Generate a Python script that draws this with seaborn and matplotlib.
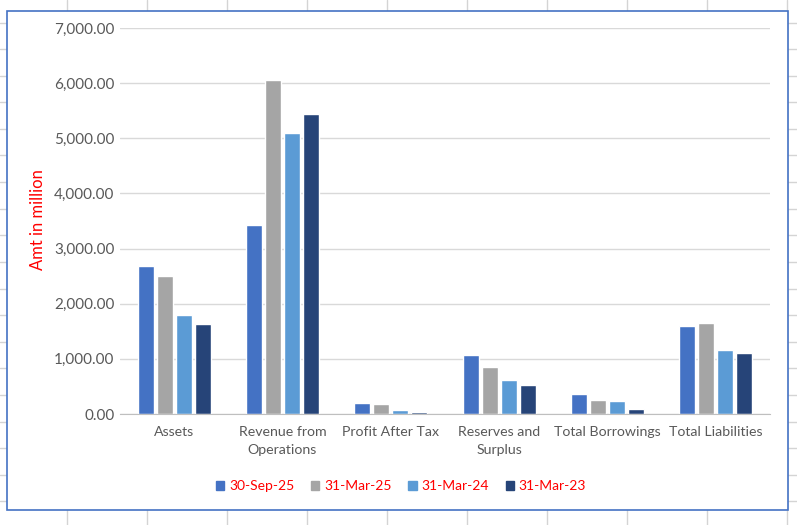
import numpy as np
import pandas as pd
import matplotlib.pyplot as plt
from matplotlib.lines import Line2D
from matplotlib.patches import Rectangle
import seaborn as sns

categories = ['Assets', 'Revenue from\nOperations', 'Profit After Tax',
              'Reserves and\nSurplus', 'Total Borrowings', 'Total Liabilities']
periods = ['30-Sep-25', '31-Mar-25', '31-Mar-24', '31-Mar-23']
sep25 = [2685, 3428, 200, 1070, 363, 1596]
mar25 = [2503, 6059, 181, 853, 254, 1651]
mar24 = [1796, 5097, 75, 617, 236, 1161]
mar23 = [1633, 5442, 40, 526, 91, 1107]
colors = ['#4472C4', '#A5A5A5', '#5B9BD5', '#264478']

df = pd.DataFrame({'category': categories * 4,
                   'period': np.repeat(periods, len(categories)),
                   'value': sep25 + mar25 + mar24 + mar23})

sns.set_style('white')
plt.rcParams['font.family'] = ['Lato', 'DejaVu Sans']
text_grey = '#595959'

W, H = 797, 525
fig = plt.figure(figsize=(W / 100, H / 100), dpi=100)

# spreadsheet grid behind the chart
for x in np.arange(67, W, 80):
    fig.add_artist(Line2D([x / W, x / W], [0, 1], color='#D4D4D4', lw=1, zorder=0))
for y in np.arange(22.5, H, 26.6):
    fig.add_artist(Line2D([0, 1], [1 - y / H, 1 - y / H], color='#D4D4D4', lw=1, zorder=0))

# chart area with blue border
fig.add_artist(Rectangle((7 / W, 1 - 510 / H), 781 / W, 499 / H,
                         facecolor='white', edgecolor='#4472C4', lw=1.2,
                         transform=fig.transFigure, zorder=1))

ax = fig.add_axes([120 / W, 1 - 414 / H, 650 / W, 386 / H])
ax.set_zorder(2)
ax.patch.set_alpha(0)

sns.barplot(data=df, x='category', y='value', hue='period', palette=colors,
            saturation=1, width=0.7, gap=0.15, ax=ax, legend=False)

ax.set_ylim(0, 7000)
ax.set_yticks(np.arange(0, 7001, 1000))
ax.set_yticklabels([f'{v:,.2f}' for v in np.arange(0, 7001, 1000)])
ax.grid(axis='y', color='#D9D9D9', lw=1)
ax.set_axisbelow(True)
for s in ['left', 'right', 'top']:
    ax.spines[s].set_visible(False)
ax.spines['bottom'].set_color('#BFBFBF')
ax.tick_params(axis='both', length=0, colors=text_grey)
ax.tick_params(axis='y', pad=4, labelsize=11)
ax.tick_params(axis='x', pad=9, labelsize=10.2)
for t in ax.get_xticklabels():
    t.set_linespacing(1.6)
ax.set_xlabel('')
ax.set_ylabel('')
fig.text(38 / W, 1 - 220 / H, 'Amt in million', color='#FF0000', fontsize=12,
         rotation=90, ha='center', va='center')

handles = [Rectangle((0, 0), 1, 1, color=c) for c in colors]
leg = fig.legend(handles, periods, loc='center', bbox_to_anchor=(401 / W, 1 - 486 / H),
                 ncol=4, frameon=False, fontsize=10, handlelength=0.6, handleheight=0.6,
                 handletextpad=0.35, columnspacing=1.2)
for t in leg.get_texts():
    t.set_color('#FF0000')

fig.savefig('out.png', dpi=100)
